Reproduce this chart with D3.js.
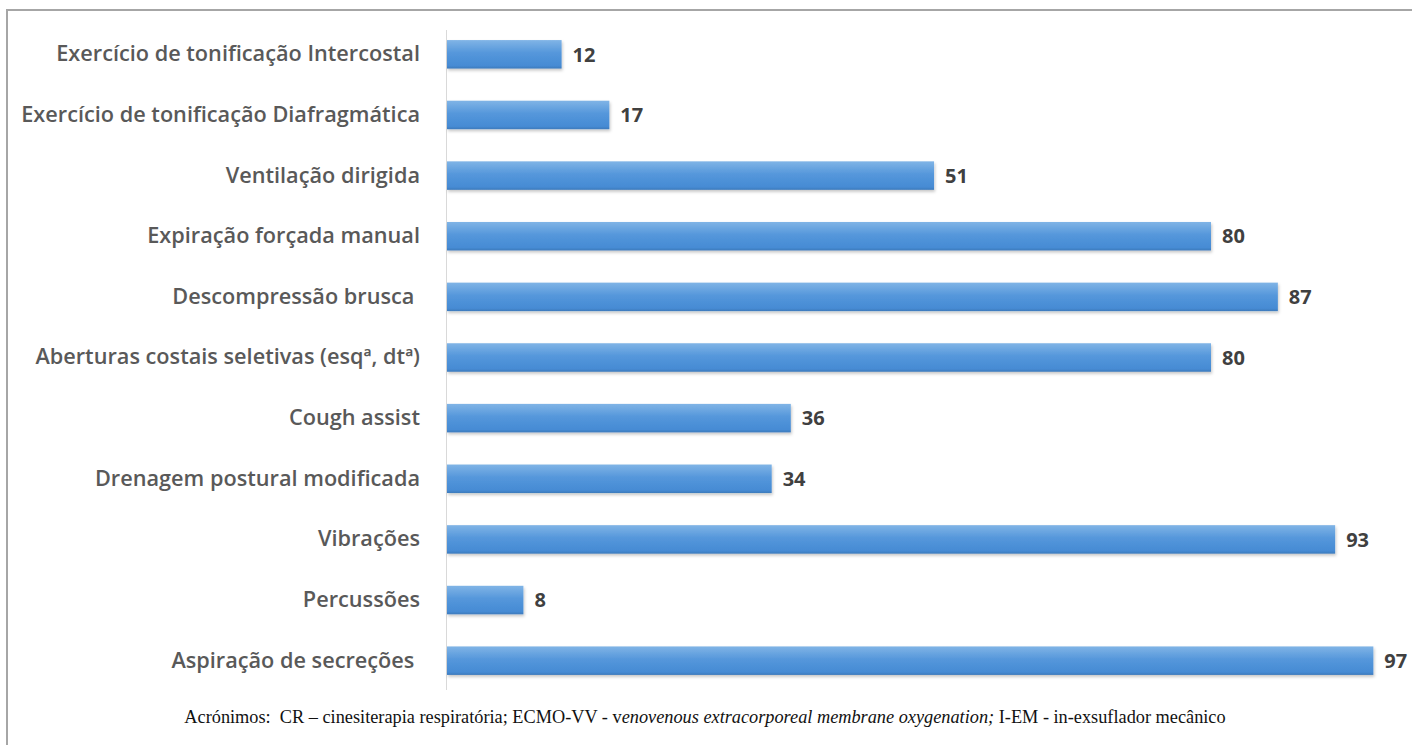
<!DOCTYPE html>
<html><head><meta charset="utf-8">
<script src="https://cdn.jsdelivr.net/npm/d3@7/dist/d3.min.js"></script>
<style>
html,body{margin:0;padding:0;background:#fff;}
svg{display:block;}
</style></head>
<body>
<svg id="chart" width="1412" height="745"></svg>
<script>
const categories = [
  "Exercício de tonificação Intercostal",
  "Exercício de tonificação Diafragmática",
  "Ventilação dirigida",
  "Expiração forçada manual",
  "Descompressão brusca\u00a0",
  "Aberturas costais seletivas (esqª, dtª)",
  "Cough assist",
  "Drenagem postural modificada",
  "Vibrações",
  "Percussões",
  "Aspiração de secreções\u00a0"
];
const values = [12, 17, 51, 80, 87, 80, 36, 34, 93, 8, 97];
const footnoteParts = [
  {t: "Acrónimos:\u00a0 CR – cinesiterapia respiratória; ECMO-VV - v", italic: false},
  {t: "enovenous extracorporeal membrane oxygenation;", italic: true},
  {t: " I-EM - in-exsuflador mecânico", italic: false}
];

const svg = d3.select("#chart");
const W = 1412, H = 745;

// outer frame
svg.append("path")
  .attr("d", `M7,${H+5} L7,10 L${W+5},10`)
  .attr("fill", "none").attr("stroke", "#a6a6a6").attr("stroke-width", 2);

const defs = svg.append("defs");
const grad = defs.append("linearGradient").attr("id", "barGrad")
  .attr("x1", 0).attr("y1", 0).attr("x2", 0).attr("y2", 1);
grad.append("stop").attr("offset", "0%").attr("stop-color", "#80b4e6");
grad.append("stop").attr("offset", "45%").attr("stop-color", "#5597db");
grad.append("stop").attr("offset", "90%").attr("stop-color", "#468bd4");
grad.append("stop").attr("offset", "100%").attr("stop-color", "#3d7abb");
const filt = defs.append("filter").attr("id", "shadow")
  .attr("x", "-5%").attr("y", "-20%").attr("width", "110%").attr("height", "160%");
filt.append("feDropShadow").attr("dx", 1).attr("dy", 2).attr("stdDeviation", 1.5)
  .attr("flood-color", "#000").attr("flood-opacity", 0.22);

const x = d3.scaleLinear().domain([0, 100]).range([447, 1402]);
const y = d3.scaleBand().domain(categories).range([24, 691]).paddingInner(0.53).paddingOuter(0.265);

// axis
const yAxis = d3.axisLeft(y).tickSize(0).tickPadding(26);
const gAxis = svg.append("g").attr("transform", `translate(446,0)`).call(yAxis);
gAxis.select(".domain").attr("stroke", "#d9d9d9").attr("stroke-width", 1)
  .attr("d", `M0.5,30V690`);
gAxis.selectAll(".tick text")
  .attr("fill", "#595959")
  .style("font-family", "'Open Sans', sans-serif")
  .style("font-weight", 600)
  .style("font-size", "21.7px")
  .style("white-space", "pre");

// bars
svg.append("g").selectAll("rect").data(values).join("rect")
  .attr("x", x(0))
  .attr("y", (d, i) => y(categories[i]))
  .attr("width", d => x(d) - x(0))
  .attr("height", y.bandwidth())
  .attr("fill", "url(#barGrad)")
  .attr("filter", "url(#shadow)");

// value labels
svg.append("g").selectAll("text").data(values).join("text")
  .attr("x", d => x(d) + 11)
  .attr("y", (d, i) => y(categories[i]) + y.bandwidth() / 2)
  .attr("dy", "0.36em")
  .attr("fill", "#404040")
  .style("font-family", "'Open Sans', sans-serif")
  .style("font-weight", 700)
  .style("font-size", "20px")
  .text(d => d);

// footnote
const foot = svg.append("text")
  .attr("x", 705).attr("y", 723)
  .attr("text-anchor", "middle")
  .attr("fill", "#111")
  .style("font-family", "'Liberation Serif', 'Times New Roman', serif")
  .style("font-size", "18.3px");
foot.selectAll("tspan").data(footnoteParts).join("tspan")
  .style("font-style", d => d.italic ? "italic" : "normal")
  .style("white-space", "pre")
  .text(d => d.t);
</script>
</body></html>
